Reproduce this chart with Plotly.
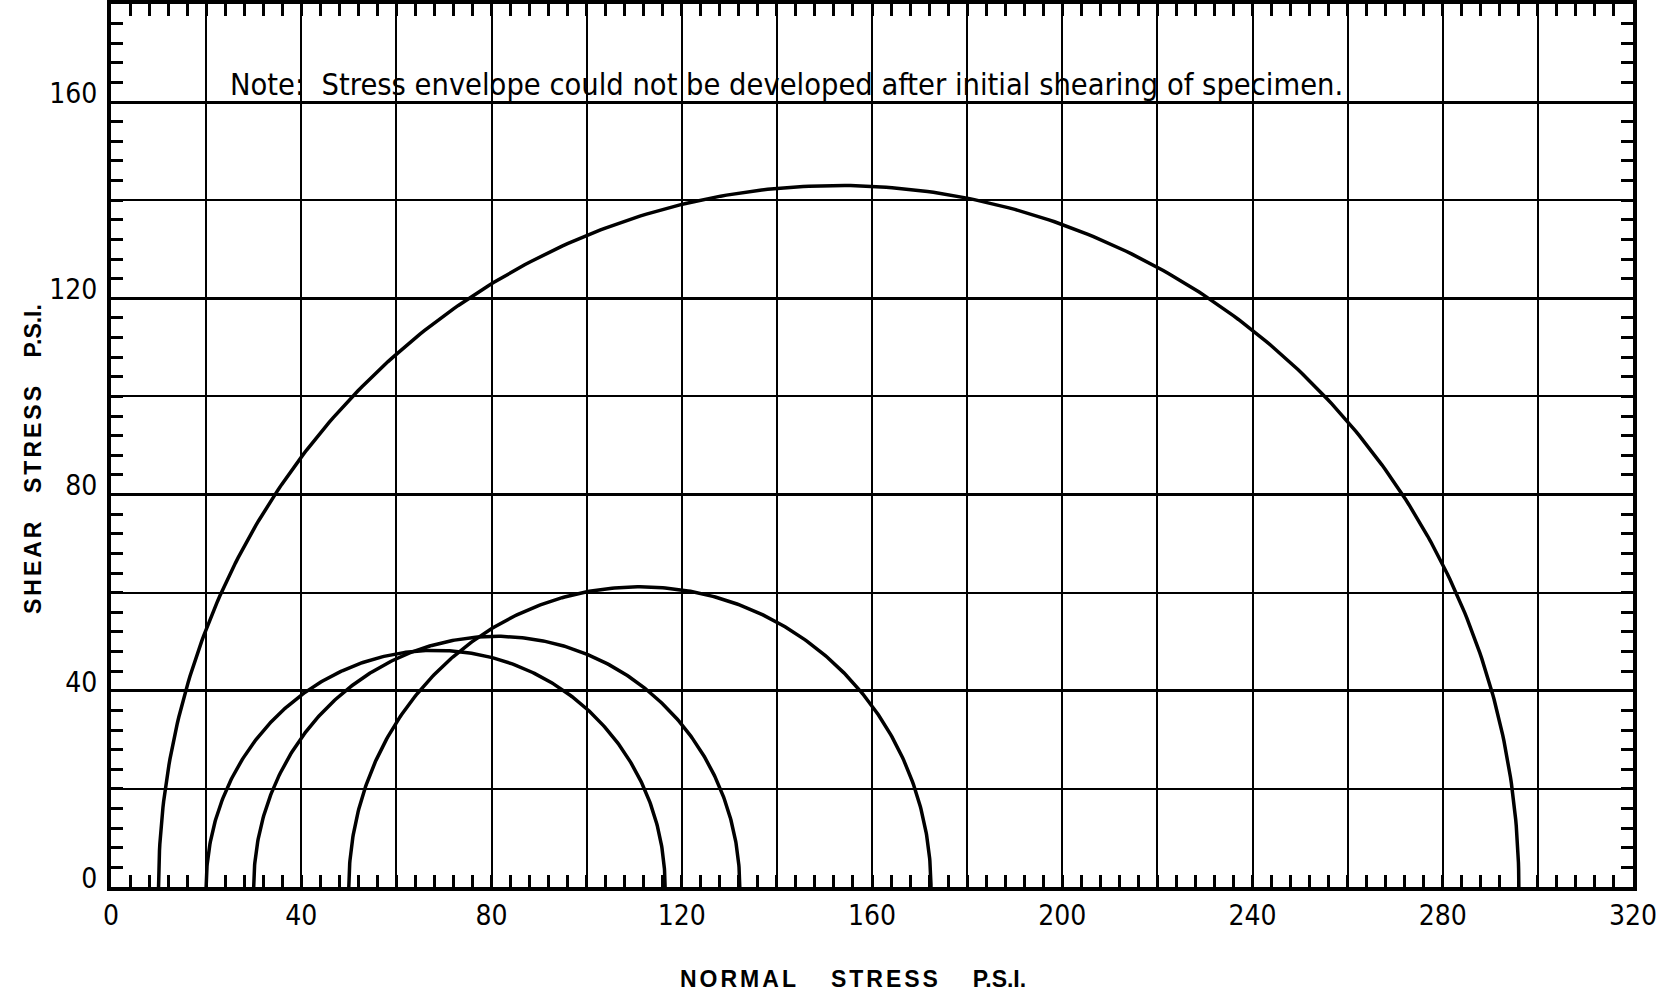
import numpy as np
import plotly.graph_objects as go

# Mohr circles: minor / major principal stresses (psi)
sigma3 = [10, 20, 30, 50]
sigma1 = [296, 116.5, 132.2, 172.4]

x_tick_vals = [0, 40, 80, 120, 160, 200, 240, 280, 320]
x_tick_text = ["0", "40", "80", "120", "160", "200", "240", "280", "320"]
y_tick_vals = [0, 40, 80, 120, 160]
y_tick_text = ["0", "40", "80", "120", "160"]

note_text = "Note:\u00a0\u00a0Stress envelope could not be developed after initial shearing of specimen."
x_title_words = ["NORMAL", "STRESS", "P.S.I."]
y_title_words = ["SHEAR", "STRESS", "P.S.I."]

NARROW = "Liberation Sans Narrow, DejaVu Sans Condensed, Arial Narrow, sans-serif"
BOLD = "Liberation Sans, Arial, sans-serif"

fig = go.Figure()
for s3, s1 in zip(sigma3, sigma1):
    c = (s1 + s3) / 2.0
    r = (s1 - s3) / 2.0
    th = np.linspace(np.pi, 0, 361)
    fig.add_trace(go.Scatter(
        x=c + r * np.cos(th), y=r * np.sin(th),
        mode="lines", line=dict(color="black", width=3.5),
        hoverinfo="skip", showlegend=False, xaxis="x", yaxis="y"))

minor_t = dict(tickmode="linear", tick0=0, dtick=4, ticks="inside", ticklen=12,
               tickwidth=2.5, tickcolor="black", showgrid=False)

ls = "letter-spacing:3px"
def spaced(words, gap):
    parts = []
    for w in words:
        if w.startswith("P.S"):
            parts.append(w)
        else:
            parts.append('<span style="%s">%s</span>' % (ls, w))
    return ("\u00a0" * gap).join(parts)

fig.update_layout(
    width=1660, height=993,
    margin=dict(l=111, r=27, t=4, b=106),
    paper_bgcolor="white", plot_bgcolor="white",
    showlegend=False,
    xaxis=dict(
        range=[0, 320], tickmode="array", tickvals=x_tick_vals, ticktext=x_tick_text,
        ticks="inside", ticklen=12, tickwidth=2.5, tickcolor="black",
        showgrid=True, gridcolor="black", gridwidth=2.2,
        showline=True, linecolor="black", linewidth=4, zeroline=False,
        tickfont=dict(family=NARROW, size=28, color="black"),
        minor=minor_t, fixedrange=True),
    xaxis2=dict(
        range=[0, 320], overlaying="x", side="top", tickmode="linear", tick0=0, dtick=20,
        showticklabels=False, ticks="inside", ticklen=12, tickwidth=2.5, tickcolor="black",
        showgrid=True, gridcolor="black", gridwidth=2,
        showline=True, linecolor="black", linewidth=4, zeroline=False,
        minor=minor_t, fixedrange=True),
    yaxis=dict(
        range=[0, 180], tickmode="array", tickvals=y_tick_vals, ticktext=y_tick_text,
        ticks="inside", ticklen=12, tickwidth=2.5, tickcolor="black",
        showgrid=True, gridcolor="black", gridwidth=3,
        showline=True, linecolor="black", linewidth=4, zeroline=False,
        tickfont=dict(family=NARROW, size=28, color="black"),
        ticklabelshift=-9, ticklabelstandoff=4,
        minor=minor_t, fixedrange=True),
    yaxis2=dict(
        range=[0, 180], overlaying="y", side="right", tickmode="linear", tick0=0, dtick=20,
        showticklabels=False, ticks="inside", ticklen=12, tickwidth=2.5, tickcolor="black",
        showgrid=True, gridcolor="black", gridwidth=2,
        showline=True, linecolor="black", linewidth=4, zeroline=False,
        minor=minor_t, fixedrange=True),
)

# dummy trace so the secondary axes are drawn
fig.add_trace(go.Scatter(x=[None], y=[None], xaxis="x2", yaxis="y2",
                         showlegend=False, hoverinfo="skip"))

fig.add_annotation(text=note_text, xref="x", yref="y", x=24.6, y=163.5,
                   xanchor="left", yanchor="middle", showarrow=False,
                   font=dict(family=NARROW, size=30.5, color="black"))
fig.add_annotation(text=spaced(x_title_words, 5), xref="paper", yref="paper",
                   x=0.4875, y=-0.1046, xanchor="center", yanchor="middle",
                   showarrow=False,
                   font=dict(family=BOLD, size=23, color="black", weight="bold"))
fig.add_annotation(text=spaced(y_title_words, 4), xref="paper", yref="paper",
                   x=-0.0517, y=0.485, xanchor="center", yanchor="middle", textangle=-90,
                   showarrow=False,
                   font=dict(family=BOLD, size=23, color="black", weight="bold"))

fig.write_html("out.html", config={"displayModeBar": False},
               post_script="document.body.style.margin='0';document.body.style.padding='0';")
